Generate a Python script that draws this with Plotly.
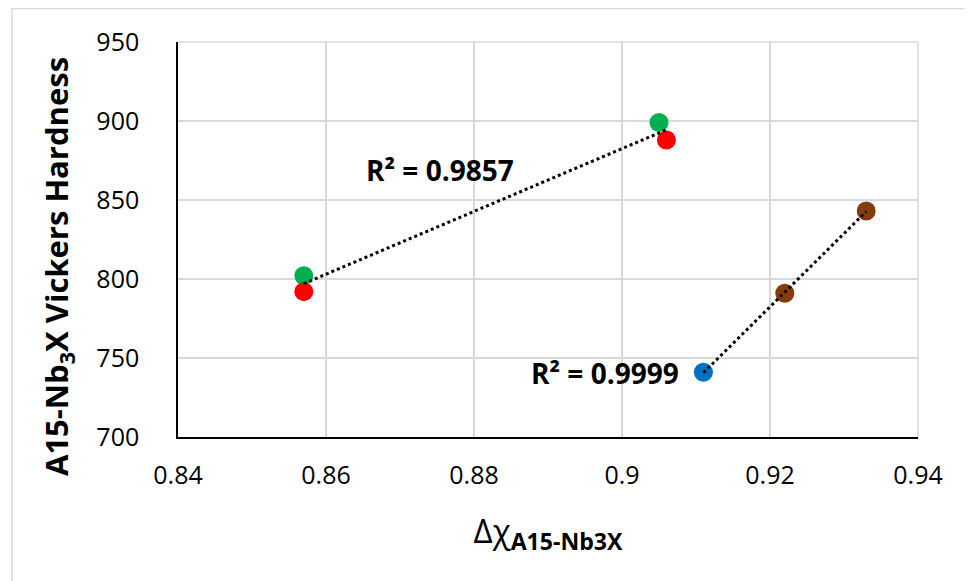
import numpy as np
import plotly.graph_objects as go

# Data
green_x = [0.857, 0.905]
green_y = [802, 899]
red_x = [0.857, 0.906]
red_y = [792, 888]
blue_x = [0.911]
blue_y = [741]
brown_x = [0.922, 0.933]
brown_y = [791, 843]

fit1_x = green_x + red_x
fit1_y = green_y + red_y
fit2_x = blue_x + brown_x
fit2_y = blue_y + brown_y

x_ticks = [0.84, 0.86, 0.88, 0.9, 0.92, 0.94]
x_tick_labels = ["0.84", "0.86", "0.88", "0.9", "0.92", "0.94"]
y_ticks = [700, 750, 800, 850, 900, 950]
r2_labels = ["R² = 0.9857", "R² = 0.9999"]
y_title = "A15-Nb<sub>3</sub>X Vickers Hardness"
x_title = "Δχ<sub><b>A15-Nb3X</b></sub>"

# page has an 8px body margin; figure sized to land the plot area in place
W, H = 964, 573
ML, MR, MT, MB = 170, 54, 34, 144
PW, PH = W - ML - MR, H - MT - MB

fig = go.Figure()

def trend(xs, ys):
    k, b = np.polyfit(xs, ys, 1)
    xr = np.array([min(xs), max(xs)])
    return xr, k * xr + b

marker_kw = dict(size=19, line=dict(width=0))
for xs, ys, c in [(green_x, green_y, "#00B050"), (red_x, red_y, "#FF0000"),
                  (blue_x, blue_y, "#0070C0"), (brown_x, brown_y, "#843C0C")]:
    fig.add_trace(go.Scatter(x=xs, y=ys, mode="markers",
                             marker=dict(color=c, **marker_kw), showlegend=False))

for xs, ys in [(fit1_x, fit1_y), (fit2_x, fit2_y)]:
    tx, ty = trend(xs, ys)
    fig.add_trace(go.Scatter(x=tx, y=ty, mode="lines",
                             line=dict(color="black", width=3, dash="dot"),
                             showlegend=False))

font_family = "Open Sans, Liberation Sans, sans-serif"

fig.add_annotation(x=0.8754, y=869, text="<b>" + r2_labels[0] + "</b>", showarrow=False,
                   font=dict(size=28, color="black", family=font_family), xanchor="center", yanchor="middle")
fig.add_annotation(x=0.8977, y=740.5, text="<b>" + r2_labels[1] + "</b>", showarrow=False,
                   font=dict(size=28, color="black", family=font_family), xanchor="center", yanchor="middle")

# y-axis title (positioned like the reference, slightly below plot centre)
fig.add_annotation(xref="paper", yref="paper", x=(50 - ML) / PW, y=(437 - 8 - 259) / PH,
                   text="<b>" + y_title + "</b>", textangle=-90, showarrow=False,
                   font=dict(size=31, color="black", family=font_family),
                   xanchor="center", yanchor="middle")

# outer border (top & left)
fig.add_shape(type="rect", xref="paper", yref="paper",
              x0=(4 - ML) / PW, x1=(W + 5 - ML) / PW,
              y0=-(H + 5 - MT - PH) / PH, y1=(H - 0.5 - MB) / PH,
              line=dict(color="#D9D9D9", width=1.5), layer="below")

fig.update_layout(
    width=W, height=H,
    margin=dict(l=ML, r=MR, t=MT, b=MB, autoexpand=False),
    plot_bgcolor="white", paper_bgcolor="white",
    font=dict(family=font_family, color="black"),
    xaxis=dict(range=[0.84, 0.94], tickvals=x_ticks, ticktext=x_tick_labels,
               showgrid=True, gridcolor="#D9D9D9", gridwidth=1.5,
               showline=True, linecolor="black", linewidth=1.5, automargin=False,
               zeroline=False, ticks="", tickfont=dict(size=25), ticklabelstandoff=15,
               title=dict(text=x_title, font=dict(size=33), standoff=30)),
    yaxis=dict(range=[700, 950], tickvals=y_ticks,
               showgrid=True, gridcolor="#D9D9D9", gridwidth=1.5,
               showline=True, linecolor="black", linewidth=1.5, automargin=False,
               zeroline=False, ticks="", tickfont=dict(size=25), ticklabelstandoff=32),
)
fig.add_shape(type="line", xref="paper", yref="paper", x0=1, x1=1, y0=0, y1=1,
              line=dict(color="#D9D9D9", width=1.5), layer="below")
fig.add_shape(type="line", xref="paper", yref="paper", x0=0, x1=1, y0=1, y1=1,
              line=dict(color="#D9D9D9", width=1.5), layer="below")

fig.write_html("out.html")
